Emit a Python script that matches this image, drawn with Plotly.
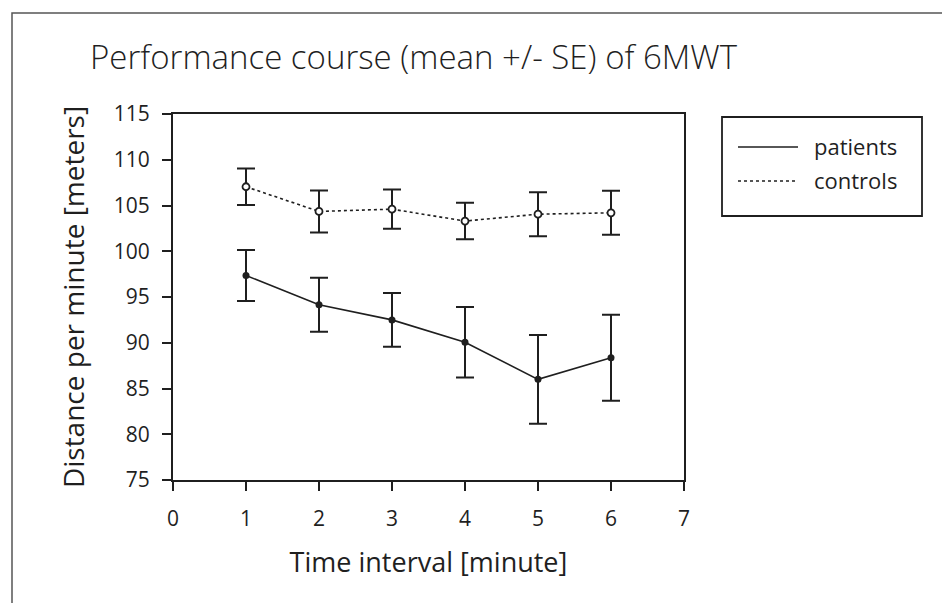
import plotly.graph_objects as go

# Data
intervals = [1, 2, 3, 4, 5, 6]
patients_mean = [97.35, 94.15, 92.5, 90.05, 86.0, 88.35]
patients_se = [2.8, 2.95, 2.95, 3.85, 4.85, 4.7]
controls_mean = [107.05, 104.35, 104.6, 103.3, 104.05, 104.2]
controls_se = [2.0, 2.3, 2.15, 2.0, 2.4, 2.4]
x_ticks = [0, 1, 2, 3, 4, 5, 6, 7]
y_ticks = [75, 80, 85, 90, 95, 100, 105, 110, 115]

FONT = "Open Sans"
INK = "#1f1f1f"

fig = go.Figure()

fig.add_trace(go.Scatter(
    x=intervals, y=controls_mean, mode="lines+markers", name="controls",
    line=dict(color=INK, width=1.6, dash="dot"),
    marker=dict(size=7, color="white", line=dict(color=INK, width=1.8)),
    error_y=dict(type="data", array=controls_se, visible=True,
                 color=INK, thickness=2, width=9),
    showlegend=False,
))
fig.add_trace(go.Scatter(
    x=intervals, y=patients_mean, mode="lines+markers", name="patients",
    line=dict(color=INK, width=1.6),
    marker=dict(size=7, color=INK),
    error_y=dict(type="data", array=patients_se, visible=True,
                 color=INK, thickness=2, width=9),
    showlegend=False,
))

OFF = 8  # page body margin
W, H = 950, 603
# plot area in page pixels
L, R, T, B = 173, 684, 114, 480
pw, ph = R - L, B - T

def px(xp):
    return (xp - L) / pw

def py(yp):
    return (B - yp) / ph

shapes = [
    dict(type="rect", xref="paper", yref="paper",
         x0=px(12), x1=px(946), y0=py(640), y1=py(13),
         line=dict(color="#555555", width=1.5), layer="below"),
    dict(type="rect", xref="paper", yref="paper",
         x0=px(722), x1=px(922), y0=py(216), y1=py(117),
         line=dict(color=INK, width=1.8)),
    dict(type="line", xref="paper", yref="paper",
         x0=px(738), x1=px(798), y0=py(147), y1=py(147),
         line=dict(color=INK, width=1.6)),
    dict(type="line", xref="paper", yref="paper",
         x0=px(738), x1=px(798), y0=py(181), y1=py(181),
         line=dict(color=INK, width=1.6, dash="dot")),
]

annotations = [
    dict(text="Performance course (mean +/- SE) of 6MWT", xref="paper", yref="paper",
         x=px(88), y=py(57), xanchor="left", yanchor="middle", showarrow=False,
         font=dict(family=FONT, size=33, color=INK, weight=300)),
    dict(text="patients", xref="paper", yref="paper",
         x=px(812), y=py(146), xanchor="left", yanchor="middle", showarrow=False,
         font=dict(family=FONT, size=22, color=INK, weight=400)),
    dict(text="controls", xref="paper", yref="paper",
         x=px(812), y=py(180), xanchor="left", yanchor="middle", showarrow=False,
         font=dict(family=FONT, size=22, color=INK, weight=400)),
]

fig.update_layout(
    width=W, height=H,
    margin=dict(l=L - OFF, r=W - (R - OFF), t=T - OFF, b=H - (B - OFF), pad=0),
    plot_bgcolor="white", paper_bgcolor="white",
    shapes=shapes, annotations=annotations,
    font=dict(family=FONT, color=INK),
)

fig.update_xaxes(
    range=[0, 7], tickvals=x_ticks, ticktext=[str(v) for v in x_ticks],
    showgrid=False, zeroline=False,
    showline=True, linecolor=INK, linewidth=2, mirror=True,
    ticks="outside", ticklen=9, tickwidth=2, tickcolor=INK,
    tickfont=dict(family=FONT, size=21, color=INK, weight=400),
    ticklabelstandoff=10,
    title=dict(text="Time interval [minute]", standoff=22,
               font=dict(family=FONT, size=27, color=INK, weight=400)),
)
fig.update_yaxes(
    range=[75, 115], tickvals=y_ticks, ticktext=[str(v) for v in y_ticks],
    showgrid=False, zeroline=False,
    showline=True, linecolor=INK, linewidth=2, mirror=True,
    ticks="outside", ticklen=9, tickwidth=2, tickcolor=INK,
    tickfont=dict(family=FONT, size=21, color=INK, weight=400),
    ticklabelstandoff=8,
    title=dict(text="Distance per minute [meters]", standoff=21,
               font=dict(family=FONT, size=28, color=INK, weight=400)),
)

fig.write_html("out.html")
